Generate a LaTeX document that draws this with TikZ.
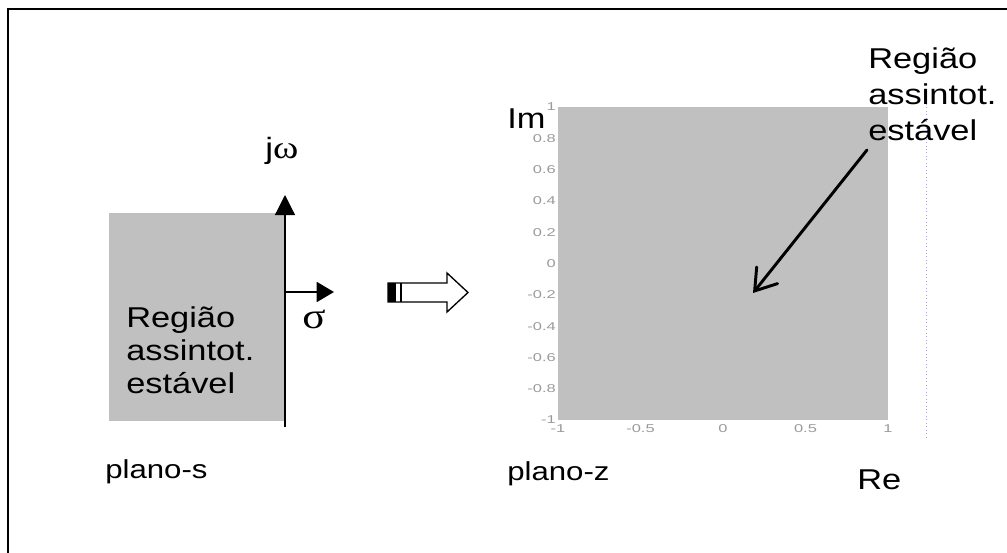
\documentclass[tikz,border=0pt]{standalone}
\usepackage{fontspec}
\setmainfont{Liberation Sans}
\newfontfamily\widefont[FakeStretch=1.2]{Liberation Sans}
\newfontfamily\tickfont[FakeStretch=1.45]{Liberation Sans}
\newfontfamily\greekfont[FakeStretch=1.2]{Liberation Serif}
\usetikzlibrary{arrows.meta}
\definecolor{regiongray}{HTML}{C0C0C0}
\definecolor{ticktext}{HTML}{9A9A9A}
\tikzset{
  bigtext/.style={anchor=base west, inner sep=0pt, font=\widefont\fontsize{21.5}{24.75}\selectfont, align=left},
  midtext/.style={anchor=base west, inner sep=0pt, font=\widefont\fontsize{19.5}{22}\selectfont},
  ticklab/.style={inner sep=0pt, text=ticktext, font=\tickfont\fontsize{8.5}{9}\selectfont},
  axisline/.style={line width=0.9pt},
}
\begin{document}
\begin{tikzpicture}[x=0.75pt,y=-0.75pt]
\useasboundingbox (0,0) rectangle (1007,553);
% outer frame (only left and top edges are visible)
\draw[line width=1.5pt] (8,553) -- (8,9) -- (1007,9);

% ---------- s-plane ----------
\fill[regiongray] (109,213) rectangle (284,421);
\coordinate (vbot) at (285,427);
\coordinate (vtop) at (285,195);
\coordinate (horig) at (285,292);
\coordinate (hend) at (334,292);
\draw[axisline, -{Triangle[length=15pt,width=15pt]}] (vbot) -- (vtop);
\draw[line width=1.4pt, -{Triangle[length=13pt,width=15pt]}] (horig) -- (hend);
\node[bigtext] (sreg) at (126,393) {Região\\assintot.\\estável};
\node[anchor=base west, inner sep=0pt, font=\widefont\fontsize{22}{24}\selectfont] (jw) at (265,158) {j{\greekfont\fontsize{24}{26}\selectfont ω}};
\node[anchor=base west, inner sep=0pt, font=\greekfont\fontsize{27}{29}\selectfont] (sigma) at (302,328) {σ};
\node[midtext] (plS) at (105,478) {plano-s};

% ---------- block arrow ----------
\draw[line width=1pt, fill=white] (388,283) -- (447,283) -- (447,273) -- (468,292.5) -- (447,312) -- (447,302) -- (388,302) -- cycle;
\fill (388,283) rectangle (396,302);
\draw[line width=1pt] (401,283) -- (401,302);

% ---------- z-plane ----------
\fill[regiongray] (558,107) rectangle (888,420);
\foreach \v/\t in {1/1,0.8/0.8,0.6/0.6,0.4/0.4,0.2/0.2,0/0,-0.2/-0.2,-0.4/-0.4,-0.6/-0.6,-0.8/-0.8,-1/-1}{
  \node[ticklab, anchor=east] at (556,{107+(1-\v)*156.5}) {\t};
}
\foreach \v/\t in {-1/-1,-0.5/-0.5,0/0,0.5/0.5,1/1}{
  \node[ticklab, anchor=north] at ({558+(\v+1)*165},424) {\t};
}
\draw[ticktext!70!blue!60, line width=0.6pt, dotted] (926,97) -- (926,437);

\node[bigtext] (Im) at (507,128) {Im};
\node[bigtext] (Re) at (857,489) {Re};
\node[midtext] (plZ) at (507,480) {plano-z};
\node[bigtext, font=\widefont\fontsize{21.5}{27}\selectfont] (zreg) at (868,140) {Região\\assintot.\\estável};
\coordinate (zarrS) at (867,150);
\coordinate (zarrE) at (753,293);
\draw[line width=2.2pt, line cap=round, -{Straight Barb[length=15pt,width=20pt,line cap=round]}] (zarrS) -- (zarrE);
\end{tikzpicture}
\end{document}
